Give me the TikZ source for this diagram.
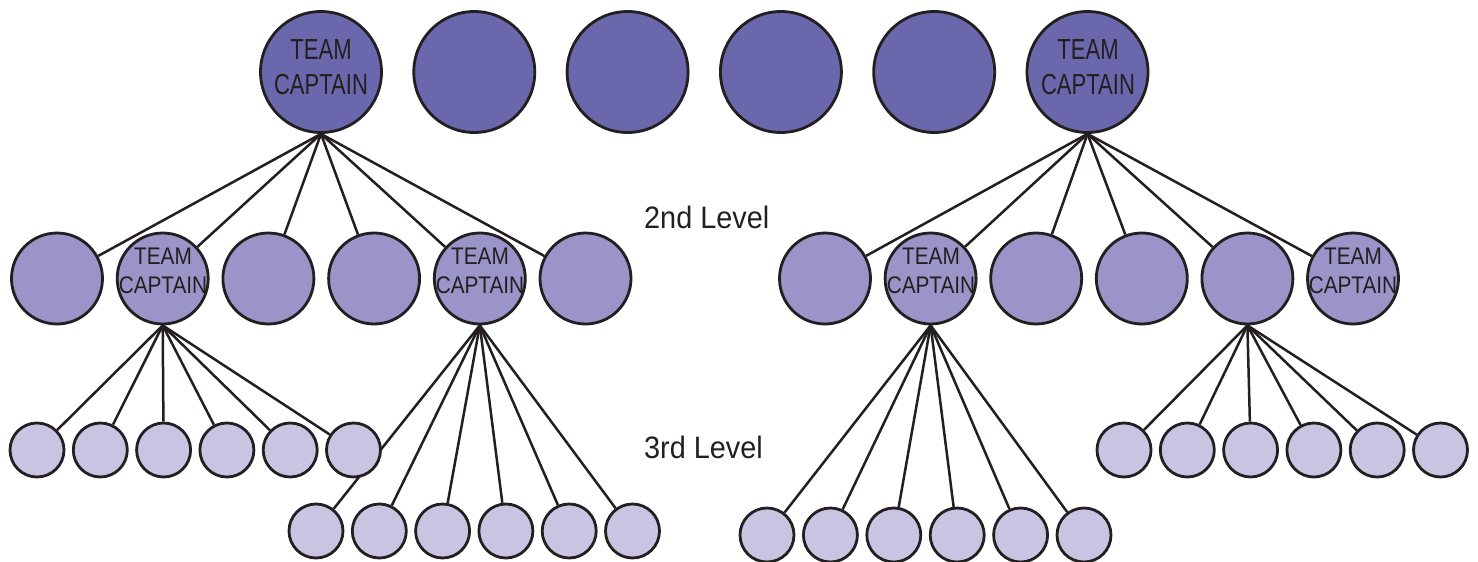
\documentclass[tikz,border=0pt]{standalone}
\usepackage{fontspec}
\setmainfont{Liberation Sans}
\newfontfamily\topfont[FakeStretch=0.76]{Liberation Sans}
\newfontfamily\midfont[FakeStretch=0.865]{Liberation Sans}
\newfontfamily\lvlfont[FakeStretch=0.93]{Liberation Sans}
\usepackage{xcolor}
\usetikzlibrary{backgrounds}
\definecolor{ink}{HTML}{231F20}
\definecolor{topfill}{HTML}{6A67AD}
\definecolor{midfill}{HTML}{9A94C8}
\definecolor{lowfill}{HTML}{C8C4E2}

\begin{document}
\begin{tikzpicture}[
      x=1pt, y=-1pt,
      toplvl/.style={circle, draw=ink, line width=2.8pt, fill=topfill, minimum size=121pt, inner sep=0pt},
      midlvl/.style={circle, draw=ink, line width=2.8pt, fill=midfill, minimum size=91pt, inner sep=0pt},
      lowlvl/.style={circle, draw=ink, line width=2.8pt, fill=lowfill, minimum size=54pt, inner sep=0pt},
      topcap/.style={text=ink, align=center, inner sep=0pt, font=\topfont\fontsize{29}{35}\selectfont},
      midcap/.style={text=ink, align=center, inner sep=0pt, font=\midfont\fontsize{24}{29}\selectfont},
      lvltext/.style={text=ink, inner sep=0pt, anchor=base west, font=\lvlfont\fontsize{31}{36}\selectfont},
      branch/.style={draw=ink, line width=2.5pt}
    ]
      \useasboundingbox (0,0) rectangle (1478,562);
      \foreach \i in {1,...,6} {
        \node[toplvl] (t\i) at ({321+153.3*(\i-1)},72) {};
        \node[midlvl] (l\i) at ({57+105.7*(\i-1)},278.5) {};
        \node[midlvl] (r\i) at ({825+105.6*(\i-1)},278.5) {};
        \node[lowlvl] (la\i) at ({37+63.3*(\i-1)},450) {};
        \node[lowlvl] (lb\i) at ({316+63.3*(\i-1)},531) {};
        \node[lowlvl] (ra\i) at ({767+63.4*(\i-1)},535) {};
        \node[lowlvl] (rb\i) at ({1124+63.3*(\i-1)},450) {};
      }
      \node[topcap] (t1cap) at (321,67) {TEAM\\CAPTAIN};
      \node[topcap] (t6cap) at (1088,67) {TEAM\\CAPTAIN};
      \node[midcap] (l2cap) at (163,271) {TEAM\\CAPTAIN};
      \node[midcap] (l5cap) at (480,271) {TEAM\\CAPTAIN};
      \node[midcap] (r2cap) at (931,271) {TEAM\\CAPTAIN};
      \node[midcap] (r6cap) at (1353,271) {TEAM\\CAPTAIN};
      \node[lvltext] (second) at (644,228) {2nd Level};
      \node[lvltext] (third) at (644,458) {3rd Level};
      \begin{pgfonlayer}{background}
        \foreach \i in {1,...,6} {
          \draw[branch] (t1.south) -- (l\i);
          \draw[branch] (t6.south) -- (r\i);
          \draw[branch] (l2.south) -- (la\i);
          \draw[branch] (l5.south) -- (lb\i);
          \draw[branch] (r2.south) -- (ra\i);
          \draw[branch] (r5.south) -- (rb\i);
        }
      \end{pgfonlayer}
    \end{tikzpicture}
\end{document}
